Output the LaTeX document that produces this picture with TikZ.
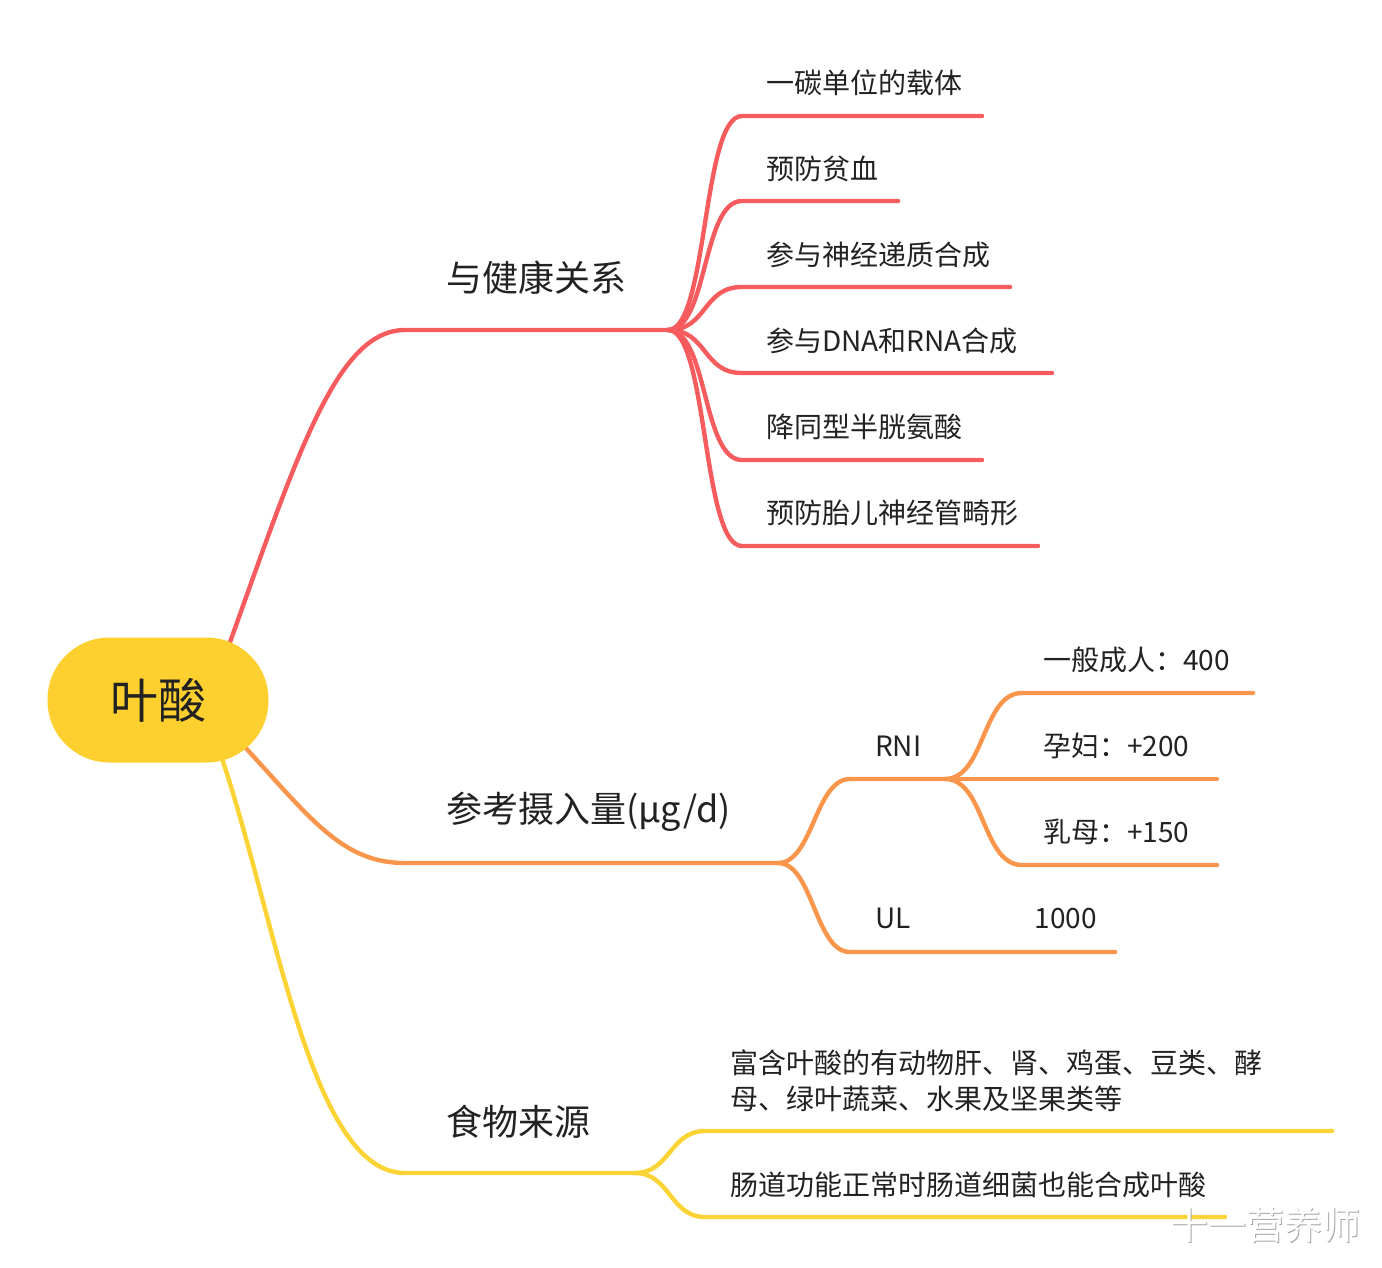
\documentclass[tikz,border=0pt]{standalone}
\usepackage{fontspec}
\setmainfont{Noto Sans CJK SC}
\definecolor{cred}{HTML}{F65C5E}
\definecolor{corange}{HTML}{FA964C}
\definecolor{cyellow}{HTML}{FCD334}
\definecolor{cfill}{HTML}{FDCF2F}
\definecolor{ctext}{HTML}{222222}
\begin{document}
\begin{tikzpicture}[x=1pt,y=-1pt,
  br/.style={line width=4.4pt,line cap=round},
  leaf/.style={anchor=west,inner sep=0pt,text=ctext,font=\fontsize{28}{36}\selectfont},
  main/.style={anchor=west,inner sep=0pt,text=ctext,font=\fontsize{36}{40}\selectfont}
]
\useasboundingbox (0,0) rectangle (1382,1268);
% coordinates
\coordinate (c) at (158,700);
\coordinate (hA) at (405,330); \coordinate (hAe) at (668,330);
\coordinate (hB) at (405,863); \coordinate (hBe) at (778,863);
\coordinate (hC) at (405,1173); \coordinate (hCe) at (635,1173);
% main branches
\draw[br,cred] (209,700) .. controls (290,480) and (330,330) .. (hA) -- (hAe);
\draw[br,corange] (200,700) .. controls (300,800) and (330,863) .. (hB) -- (hBe);
\draw[br,cyellow] (200,700) .. controls (270,860) and (300,1173) .. (hC) -- (hCe);
% red leaves
\foreach \y/\e [count=\i] in {116/982,201/898,287/1010,373/1052,460/982,546/1038}{
  \coordinate (rs\i) at (742,\y);
  \coordinate (re\i) at (\e,\y);
  \draw[br,cred] (hAe) .. controls +(40,0) and +(-40,0) .. (rs\i) -- (re\i);
}
\node[leaf] (r1) at (766,83) {一碳单位的载体};
\node[leaf] (r2) at (766,169) {预防贫血};
\node[leaf] (r3) at (766,255) {参与神经递质合成};
\node[leaf] (r4) at (766,341) {参与DNA和RNA合成};
\node[leaf] (r5) at (766,427) {降同型半胱氨酸};
\node[leaf] (r6) at (766,513) {预防胎儿神经管畸形};
% orange
\coordinate (rniS) at (850,779); \coordinate (rniE) at (945,779);
\coordinate (ulS) at (850,952); \coordinate (ulE) at (1115,952);
\draw[br,corange] (hBe) .. controls +(35,0) and +(-35,0) .. (rniS) -- (rniE);
\draw[br,corange] (hBe) .. controls +(35,0) and +(-35,0) .. (ulS) -- (ulE);
\coordinate (o1s) at (1022,693); \coordinate (o1e) at (1253,693);
\coordinate (o2e) at (1217,779);
\coordinate (o3s) at (1022,865); \coordinate (o3e) at (1217,865);
\draw[br,corange] (rniE) .. controls +(40,0) and +(-40,0) .. (o1s) -- (o1e);
\draw[br,corange] (rniE) -- (o2e);
\draw[br,corange] (rniE) .. controls +(40,0) and +(-40,0) .. (o3s) -- (o3e);
\node[leaf] (rni) at (875,746) {RNI};
\node[leaf] (o1) at (1043,660) {一般成人：400};
\node[leaf] (o2) at (1043,746) {孕妇：+200};
\node[leaf] (o3) at (1043,832) {乳母：+150};
\node[leaf] (ul) at (875,918) {UL\hspace{124pt}1000};
% yellow
\coordinate (y1s) at (705,1131); \coordinate (y1e) at (1332,1131);
\coordinate (y2s) at (705,1217); \coordinate (y2e) at (1225,1217);
\draw[br,cyellow] (hCe) .. controls +(35,0) and +(-35,0) .. (y1s) -- (y1e);
\draw[br,cyellow] (hCe) .. controls +(35,0) and +(-35,0) .. (y2s) -- (y2e);
\node[leaf,align=left] (f1) at (730,1081) {富含叶酸的有动物肝、肾、鸡蛋、豆类、酵\\母、绿叶蔬菜、水果及坚果类等};
\node[leaf] (f2) at (730,1185) {肠道功能正常时肠道细菌也能合成叶酸};
% main labels
\node[main] (la) at (446,278) {与健康关系};
\node[main] (lb) at (446,812) {参考摄入量(μg/d)};
\node[main] (lc) at (446,1122) {食物来源};
% center
\node[fill=cfill,rounded corners=62pt,minimum width=221pt,minimum height=125pt,inner sep=0pt,text=ctext,font=\fontsize{48}{52}\selectfont] (center) at (c) {叶酸};
% watermark
\node[anchor=west,inner sep=0pt,text=black!35,font=\fontsize{38}{40}\selectfont] (wm0) at (1171.5,1226.5) {十一营养师};
\node[anchor=west,inner sep=0pt,text=white,font=\fontsize{38}{40}\selectfont] (wm) at (1170,1225) {十一营养师};
\end{tikzpicture}
\end{document}
